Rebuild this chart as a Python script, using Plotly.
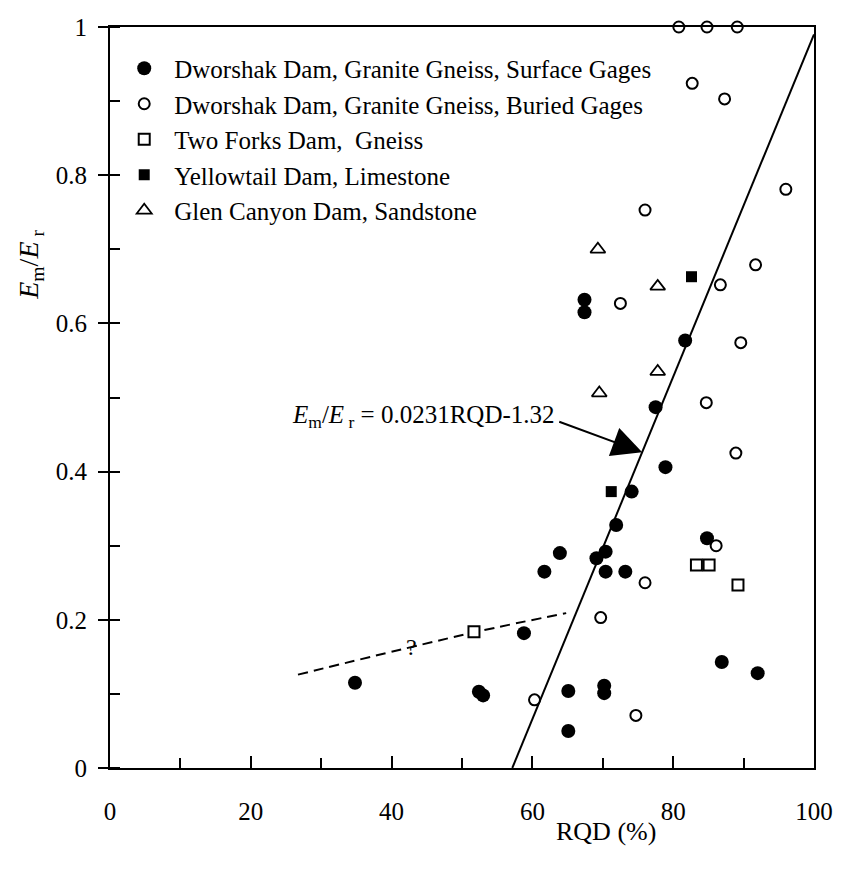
import plotly.graph_objects as go

# ---- data ----
surf_x = [34.8, 52.4, 53.0, 58.8, 61.7, 63.9, 65.1, 65.1, 67.4, 67.4, 69.1, 70.4, 70.4, 70.2, 70.2,
          71.9, 73.2, 74.1, 77.5, 78.9, 81.7, 84.8, 86.9, 92.0]
surf_y = [0.115, 0.103, 0.098, 0.182, 0.265, 0.290, 0.104, 0.050, 0.632, 0.615, 0.283, 0.292, 0.265, 0.111, 0.101,
          0.328, 0.265, 0.373, 0.487, 0.406, 0.577, 0.310, 0.143, 0.128]

bur_x = [80.8, 84.8, 89.1, 82.7, 87.3, 96.0, 76.0, 91.7, 86.7, 72.5, 89.6, 84.7, 88.9, 86.1, 76.0, 69.7, 60.3, 74.7]
bur_y = [1.0, 1.0, 1.0, 0.924, 0.903, 0.781, 0.753, 0.679, 0.652, 0.627, 0.574, 0.493, 0.425, 0.300, 0.250, 0.203, 0.092, 0.071]

tf_x = [51.7, 83.3, 85.1, 89.2]
tf_y = [0.184, 0.274, 0.274, 0.247]

yt_x = [82.6, 71.2]
yt_y = [0.663, 0.373]

gc_x = [69.3, 77.8, 77.8, 69.5]
gc_y = [0.700, 0.650, 0.535, 0.506]

slope, intercept = 0.0231, -1.32
fit_x = [-intercept / slope, 100.0]
fit_y = [slope * v + intercept for v in fit_x]

dash_x = [26.7, 51.7, 64.8]
dash_y = [0.126, 0.183, 0.209]

x_ticks = [0, 20, 40, 60, 80, 100]
y_ticks = [0, 0.2, 0.4, 0.6, 0.8, 1]
y_ticktext = ["0", "0.2", "0.4", "0.6", "0.8", "1"]

FONT = "'Liberation Serif', 'Times New Roman', Times, 'DejaVu Serif', serif"
K = "black"

fig = go.Figure()

fig.add_trace(go.Scatter(x=fit_x, y=fit_y, mode="lines", line=dict(color=K, width=2),
                         showlegend=False, hoverinfo="skip", cliponaxis=False))
fig.add_trace(go.Scatter(x=dash_x, y=dash_y, mode="lines", line=dict(color=K, width=2, dash="10px,6px"),
                         line_shape="spline", showlegend=False, hoverinfo="skip"))

fig.add_trace(go.Scatter(x=surf_x, y=surf_y, mode="markers", name="Dworshak Dam, Granite Gneiss, Surface Gages",
                         legendgroup="a",
                         marker=dict(symbol="circle", size=14, color=K)))
fig.add_trace(go.Scatter(x=bur_x, y=bur_y, mode="markers", name="Dworshak Dam, Granite Gneiss, Buried Gages",
                         legendgroup="b", cliponaxis=False,
                         marker=dict(symbol="circle", size=11, color="white", line=dict(color=K, width=2))))
fig.add_trace(go.Scatter(x=tf_x, y=tf_y, mode="markers", name="Two Forks Dam,  Gneiss",
                         legendgroup="c",
                         marker=dict(symbol="square", size=11, color="white", line=dict(color=K, width=2))))
fig.add_trace(go.Scatter(x=yt_x, y=yt_y, mode="markers", name="Yellowtail Dam, Limestone",
                         legendgroup="d",
                         marker=dict(symbol="square", size=11, color=K)))
fig.add_trace(go.Scatter(x=gc_x, y=gc_y, mode="markers", name="Glen Canyon Dam, Sandstone",
                         legendgroup="e",
                         marker=dict(symbol="triangle-up", size=13, color="white", line=dict(color=K, width=1.8))))

# equation annotation + arrow
fig.add_annotation(x=63.5, y=0.475, xref="x", yref="y", xanchor="right", yanchor="middle",
                   text="<i>E</i><sub>m</sub>/<i>E</i><sub> r</sub> = 0.0231RQD-1.32",
                   showarrow=False, font=dict(family=FONT, size=25, color=K))
fig.add_annotation(x=75.6, y=0.426, xref="x", yref="y", ax=63.6, ay=0.468, axref="x", ayref="y",
                   text="", showarrow=True, arrowhead=2, arrowsize=3.0, arrowwidth=2, arrowcolor=K, standoff=0)
fig.add_annotation(x=42.8, y=0.163, xref="x", yref="y", text="?", showarrow=False,
                   font=dict(family=FONT, size=24, color=K))

# axis titles
fig.add_annotation(x=-0.14, y=0.729, xref="paper", yref="paper", textangle=-90,
                   text="<i>E</i><sub>m</sub>/<i>E</i><sub> r</sub>", showarrow=False,
                   font=dict(family=FONT, size=28, color=K))
fig.add_annotation(x=70.4, y=-0.108, xref="x", yref="paper", text="RQD (%)", showarrow=False,
                   font=dict(family=FONT, size=26, color=K))

fig.update_layout(
    width=845, height=871,
    margin=dict(l=110, r=23, t=27, b=103),
    paper_bgcolor="white", plot_bgcolor="white",
    font=dict(family=FONT, size=25, color=K),
    legend=dict(x=0.006, y=0.975, xanchor="left", yanchor="top", bgcolor="rgba(0,0,0,0)",
                font=dict(family=FONT, size=25, color=K), tracegroupgap=0, itemwidth=50),
    xaxis=dict(range=[0, 100], tickvals=x_ticks, ticks="inside", ticklen=12, tickwidth=1.5, tickcolor=K,
               showline=True, linecolor=K, linewidth=2, mirror=True, showgrid=False, zeroline=False,
               ticklabelstandoff=20, tickfont=dict(family=FONT, size=25, color=K),
               minor=dict(dtick=10, ticks="inside", ticklen=10, tickwidth=1.5, tickcolor=K, showgrid=False)),
    yaxis=dict(range=[0, 1], tickvals=y_ticks, ticktext=y_ticktext, ticks="outside", ticklen=10, tickwidth=1.5,
               tickcolor=K, showline=True, linecolor=K, linewidth=2, mirror=True, showgrid=False, zeroline=False,
               ticklabelstandoff=6, tickfont=dict(family=FONT, size=25, color=K),
               minor=dict(dtick=0.1, ticks="inside", ticklen=10, tickwidth=1.5, tickcolor=K, showgrid=False)),
)

fig.write_html("out.html")
